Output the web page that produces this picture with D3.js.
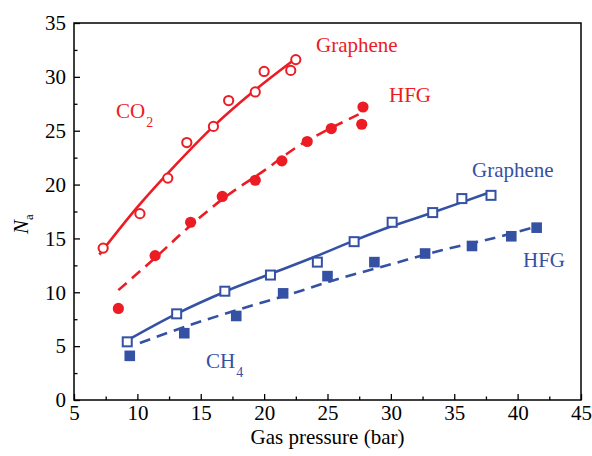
<!DOCTYPE html>
<html>
<head>
<meta charset="utf-8">
<script src="https://cdn.jsdelivr.net/npm/d3@7"></script>
<style>
  body { margin: 0; background: #fff; }
  svg { display: block; }
  svg text { font-family: "Liberation Serif", "DejaVu Serif", serif !important; }
</style>
</head>
<body>
<script>
let width = 592;
let height = 456;

// values
let co2GrapheneP = [7.3, 10.2, 12.4, 13.9, 16.0, 17.2, 19.3, 20.0, 22.1, 22.5];
let co2GrapheneN = [14.1, 17.3, 20.6, 23.9, 25.4, 27.8, 28.6, 30.5, 30.6, 31.6];
let co2HfgP = [8.5, 11.4, 14.2, 16.7, 19.3, 21.4, 23.4, 25.3, 27.7, 27.8];
let co2HfgN = [8.5, 13.4, 16.5, 18.9, 20.4, 22.2, 24.0, 25.2, 25.6, 27.2];
let ch4GrapheneP = [9.2, 13.1, 16.9, 20.5, 24.2, 27.1, 30.1, 33.3, 35.6, 37.9];
let ch4GrapheneN = [5.4, 8.0, 10.1, 11.6, 12.8, 14.7, 16.5, 17.4, 18.7, 19.0];
let ch4HfgP = [9.4, 13.7, 17.8, 21.5, 25.0, 28.7, 32.7, 36.4, 39.5, 41.5];
let ch4HfgN = [4.1, 6.2, 7.8, 9.9, 11.5, 12.8, 13.6, 14.3, 15.2, 16.0];

// fitted curves
let co2GrapheneFitP = [7.0, 10.0, 13.0, 16.0, 19.0, 22.5];
let co2GrapheneFitN = [13.5, 17.9, 21.8, 25.4, 28.5, 31.7];
let co2HfgFitP = [8.5, 11.5, 14.0, 17.0, 20.0, 23.0, 27.6];
let co2HfgFitN = [10.2, 13.3, 16.0, 18.9, 21.3, 23.8, 26.6];
let ch4GrapheneFitP = [9.3, 13.0, 17.0, 20.5, 24.0, 27.0, 30.0, 33.3, 37.6];
let ch4GrapheneFitN = [5.6, 7.95, 10.1, 11.7, 13.3, 14.75, 16.1, 17.4, 19.2];
let ch4HfgFitP = [10.2, 14.0, 18.0, 22.0, 26.0, 30.0, 34.0, 38.0, 41.5];
let ch4HfgFitN = [5.3, 6.9, 8.4, 9.8, 11.3, 12.6, 13.9, 15.0, 16.1];

let xTicks = [5, 10, 15, 20, 25, 30, 35, 40, 45];
let yTicks = [0, 5, 10, 15, 20, 25, 30, 35];

let red = "#ec1c24";
let blue = "#3551a4";
let serif = "'Liberation Serif', 'DejaVu Serif', serif";

let svg = d3.select("body").append("svg")
                           .attr("width", width)
                           .attr("height", height)
                           .attr("font-family", serif);

let plotLeft = 74, plotRight = 581, plotTop = 23, plotBottom = 400;

let x = d3.scaleLinear().domain([5, 45]).range([plotLeft, plotRight]);
let y = d3.scaleLinear().domain([0, 35]).range([plotBottom, plotTop]);

function zip(px, py) { return px.map(function (p, i) { return [p, py[i]]; }); }

// axes: major ticks inward, minor ticks between
let xAxis = svg.append("g")
               .attr("transform", "translate(0," + plotBottom + ")")
               .call(d3.axisBottom(x).tickValues(xTicks).tickSizeInner(-6).tickSizeOuter(0).tickPadding(5));
svg.append("g")
   .attr("transform", "translate(0," + plotBottom + ")")
   .call(d3.axisBottom(x).tickValues(xTicks.slice(0, -1).map(function (t) { return t + 2.5; }))
           .tickSize(-3.5).tickFormat(""));
let yAxis = svg.append("g")
               .attr("transform", "translate(" + plotLeft + ",0)")
               .call(d3.axisLeft(y).tickValues(yTicks).tickSizeInner(-6).tickSizeOuter(0).tickPadding(8));
svg.append("g")
   .attr("transform", "translate(" + plotLeft + ",0)")
   .call(d3.axisLeft(y).tickValues(yTicks.slice(0, -1).map(function (t) { return t + 2.5; }))
           .tickSize(-3.5).tickFormat(""));

svg.selectAll("g").attr("font-family", serif);
svg.selectAll(".domain").remove();
svg.selectAll(".tick line").attr("stroke", "#000").attr("stroke-width", 1.3);
svg.selectAll(".tick text").attr("font-size", 21).attr("fill", "#000");
xAxis.selectAll(".tick text").attr("dy", "0.71em");

svg.append("rect")
   .attr("x", plotLeft).attr("y", plotTop)
   .attr("width", plotRight - plotLeft).attr("height", plotBottom - plotTop)
   .attr("fill", "none").attr("stroke", "#000").attr("stroke-width", 1.5);

// axis titles
svg.append("text")
   .attr("x", (plotLeft + plotRight) / 2).attr("y", 444)
   .attr("text-anchor", "middle").attr("font-size", 21)
   .text("Gas pressure (bar)");

let yTitle = svg.append("text")
                .attr("transform", "translate(28,224) rotate(-90)")
                .attr("text-anchor", "middle").attr("font-size", 21);
yTitle.append("tspan").attr("font-style", "italic").text("N");
yTitle.append("tspan").attr("font-size", 13).attr("dy", 5).text("a");

// fitted lines
let line = d3.line()
             .x(function (d) { return x(d[0]); })
             .y(function (d) { return y(d[1]); })
             .curve(d3.curveCatmullRom);

let fits = [
  { pts: zip(co2GrapheneFitP, co2GrapheneFitN), color: red, dash: null },
  { pts: zip(co2HfgFitP, co2HfgFitN), color: red, dash: "11,7" },
  { pts: zip(ch4GrapheneFitP, ch4GrapheneFitN), color: blue, dash: null },
  { pts: zip(ch4HfgFitP, ch4HfgFitN), color: blue, dash: "11,7" }
];

svg.selectAll("path.fit").data(fits).enter().append("path")
   .attr("class", "fit")
   .attr("d", function (d) { return line(d.pts); })
   .attr("fill", "none")
   .attr("stroke", function (d) { return d.color; })
   .attr("stroke-width", 2.6)
   .attr("stroke-dasharray", function (d) { return d.dash; });

// markers
svg.selectAll("circle.co2g").data(zip(co2GrapheneP, co2GrapheneN)).enter().append("circle")
   .attr("class", "co2g")
   .attr("cx", function (d) { return x(d[0]); })
   .attr("cy", function (d) { return y(d[1]); })
   .attr("r", 4.6)
   .attr("fill", "#fff").attr("stroke", red).attr("stroke-width", 2);

svg.selectAll("circle.co2h").data(zip(co2HfgP, co2HfgN)).enter().append("circle")
   .attr("class", "co2h")
   .attr("cx", function (d) { return x(d[0]); })
   .attr("cy", function (d) { return y(d[1]); })
   .attr("r", 5.6)
   .attr("fill", red);

svg.selectAll("rect.ch4g").data(zip(ch4GrapheneP, ch4GrapheneN)).enter().append("rect")
   .attr("class", "ch4g")
   .attr("x", function (d) { return x(d[0]) - 4.5; })
   .attr("y", function (d) { return y(d[1]) - 4.5; })
   .attr("width", 9).attr("height", 9)
   .attr("fill", "#fff").attr("stroke", blue).attr("stroke-width", 2);

svg.selectAll("rect.ch4h").data(zip(ch4HfgP, ch4HfgN)).enter().append("rect")
   .attr("class", "ch4h")
   .attr("x", function (d) { return x(d[0]) - 5.3; })
   .attr("y", function (d) { return y(d[1]) - 5.3; })
   .attr("width", 10.6).attr("height", 10.6)
   .attr("fill", blue);

// series labels
function label(tx, ty, color, main, sub) {
  let t = svg.append("text").attr("x", tx).attr("y", ty)
             .attr("font-size", 21).attr("fill", color);
  t.append("tspan").text(main);
  if (sub) t.append("tspan").attr("font-size", 14).attr("dy", 9).attr("dx", 1).text(sub);
}
label(316, 52, red, "Graphene");
label(389, 102, red, "HFG");
label(116, 118, red, "CO", "2");
label(472, 177, blue, "Graphene");
label(523, 267, blue, "HFG");
label(206, 368, blue, "CH", "4");
</script>
</body>
</html>
